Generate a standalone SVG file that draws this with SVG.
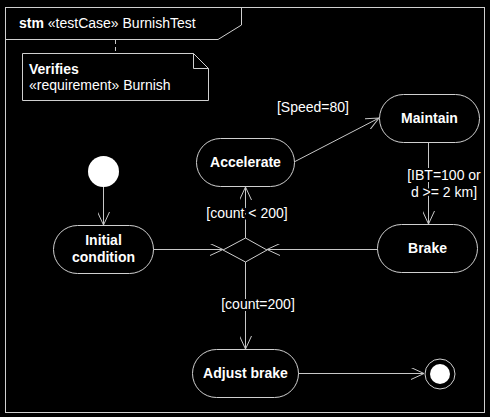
<svg xmlns="http://www.w3.org/2000/svg" width="490" height="417" viewBox="0 0 490 417">
<style>
text{font-family:"Liberation Sans",Arial,sans-serif;font-size:14px;fill:#fff}
.b{font-weight:bold}
.n{fill:#000;stroke:#d0d0d0;stroke-width:1}
.c{fill:none;stroke:#c8c8c8;stroke-width:1}
.lbl{paint-order:stroke;stroke:#000;stroke-width:4px}
</style>
<defs>
<marker id="a" viewBox="0 0 14 12" refX="13" refY="6" markerWidth="14" markerHeight="12" markerUnits="userSpaceOnUse" orient="auto">
<path d="M0,0 L13,6 L0,12" fill="none" stroke="#c8c8c8" stroke-width="1"/>
</marker>
</defs>
<rect width="490" height="417" fill="#000"/>
<g id="frame">
<rect x="5.5" y="7.5" width="479" height="405" fill="none" stroke="#d0d0d0"/>
<path d="M5.5,39.5 H218 L241.5,25 V7.5" fill="none" stroke="#d0d0d0"/>
<text x="19" y="28"><tspan class="b">stm</tspan> «testCase» BurnishTest</text>
</g>
<g id="note">
<path d="M22.5,53.5 H193.5 L208.5,68.5 V100.5 H22.5 Z" fill="#000" stroke="#d0d0d0"/>
<path d="M193.5,53.5 V68.5 H208.5" fill="none" stroke="#d0d0d0"/>
<text x="29" y="74" class="b">Verifies</text>
<text x="29" y="90">«requirement» Burnish</text>
</g>
<g id="connectors">
<line class="c" x1="115.5" y1="40" x2="115.5" y2="53" stroke-dasharray="4,3"/>
<line class="c" x1="103.5" y1="187" x2="103.5" y2="225" marker-end="url(#a)"/>
<line class="c" x1="153" y1="249.5" x2="223" y2="249.5" marker-end="url(#a)"/>
<line class="c" x1="377" y1="249.5" x2="267" y2="249.5" marker-end="url(#a)"/>
<line class="c" x1="245.5" y1="238" x2="245.5" y2="187" marker-end="url(#a)"/>
<line class="c" x1="294" y1="162" x2="379" y2="118" marker-end="url(#a)"/>
<line class="c" x1="428.5" y1="143" x2="428.5" y2="224" marker-end="url(#a)"/>
<line class="c" x1="245.5" y1="262" x2="245.5" y2="349" marker-end="url(#a)"/>
<line class="c" x1="298" y1="373.5" x2="424" y2="373.5" marker-end="url(#a)"/>
<text x="313" y="112" text-anchor="middle">[Speed=80]</text>
<text class="lbl" x="247" y="218" text-anchor="middle">[count &lt; 200]</text>
<text class="lbl" x="444" y="180" text-anchor="middle">[IBT=100 or</text>
<text class="lbl" x="444" y="197" text-anchor="middle">d &gt;= 2 km]</text>
<text class="lbl" x="258" y="309" text-anchor="middle">[count=200]</text>
</g>
<g id="initial"><circle cx="103.5" cy="171.5" r="15.5" fill="#fff"/></g>
<g id="initial-condition">
<rect class="n" x="53.5" y="225.5" width="100" height="48" rx="24"/>
<text class="b" x="103.5" y="245" text-anchor="middle">Initial</text>
<text class="b" x="103.5" y="262" text-anchor="middle">condition</text>
</g>
<g id="decision"><path class="n" d="M223,250 L245.5,238 L267,250 L245.5,262 Z" fill="none"/></g>
<g id="accelerate">
<rect class="n" x="196.5" y="138.5" width="98" height="48" rx="24"/>
<text class="b" x="245.5" y="167" text-anchor="middle">Accelerate</text>
</g>
<g id="maintain">
<rect class="n" x="379.5" y="94.5" width="100" height="48" rx="24"/>
<text class="b" x="429.5" y="123" text-anchor="middle">Maintain</text>
</g>
<g id="brake">
<rect class="n" x="377.5" y="224.5" width="100" height="48" rx="24"/>
<text class="b" x="427.5" y="253" text-anchor="middle">Brake</text>
</g>
<g id="adjust-brake">
<rect class="n" x="192.5" y="349.5" width="106" height="48" rx="24"/>
<text class="b" x="245.5" y="378" text-anchor="middle">Adjust brake</text>
</g>
<g id="final">
<circle cx="440" cy="374" r="15" fill="#000" stroke="#d0d0d0"/>
<circle cx="440" cy="374" r="10" fill="#fff"/>
</g>
</svg>
